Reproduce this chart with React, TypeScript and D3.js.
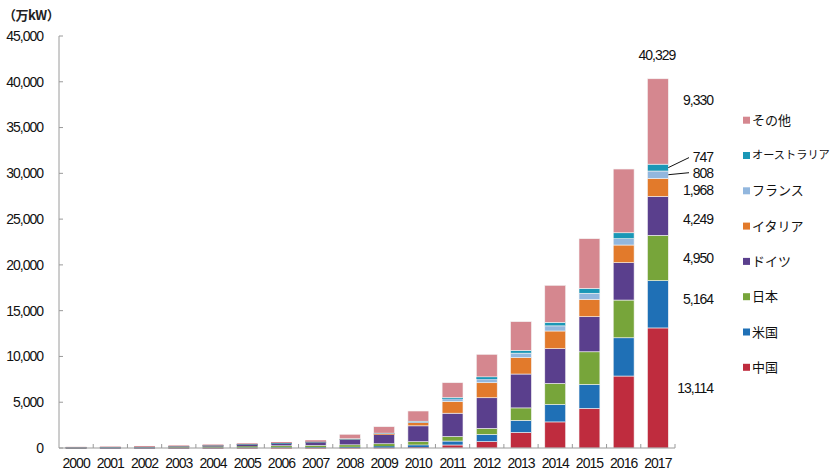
import React from "react";
import * as d3 from "d3";

const years = ["2000","2001","2002","2003","2004","2005","2006","2007","2008","2009","2010","2011","2012","2013","2014","2015","2016","2017"];
const seriesNames = ["中国","米国","日本","ドイツ","イタリア","フランス","オーストラリア","その他"];
const seriesColors = ["#BF2C3E","#1F70B6","#77A53A","#5A3F8D","#E27A2B","#92B7DE","#1A97B6","#D5878F"];

const china = [2,3,4,5,6,7,8,10,14,30,80,330,700,1700,2850,4320,7860,13114];
const usa = [14,17,21,28,37,48,62,83,117,170,250,430,780,1320,1900,2620,4180,5164];
const japan = [33,45,64,86,113,142,171,192,214,263,362,491,660,1360,2300,3570,4120,4950];
const germany = [11,18,30,43,110,200,290,380,600,990,1730,2550,3350,3700,3800,3830,4080,4249];
const italy = [2,2,2,3,3,4,5,10,46,120,350,1280,1640,1790,1930,1900,1930,1968];
const france = [1,1,1,1,1,1,2,5,10,30,100,290,400,490,560,660,690,808];
const australia = [3,3,4,5,5,6,7,8,10,18,50,140,240,300,390,540,650,747];
const others = [59,71,94,109,105,102,105,162,489,704,1118,1619,2460,3140,4040,5420,6960,9330];

const yTicks = [0,5000,10000,15000,20000,25000,30000,35000,40000,45000];
const total2017Label = "40,329";
const labels2017 = ["13,114","5,164","4,950","4,249","1,968","808","747","9,330"];
const labelDy = [0,-5,0,3,3,-2,-10,-21];

const W = 838, H = 474;
const left = 59, right = 675, top = 36, bottom = 448;

export default function App() {
  const data = years.map((y, i) => ({
    year: y,
    中国: china[i], 米国: usa[i], 日本: japan[i], ドイツ: germany[i],
    イタリア: italy[i], フランス: france[i], オーストラリア: australia[i], その他: others[i],
  }));
  const stack = d3.stack<any>().keys(seriesNames)(data);
  const x = d3.scaleBand<string>().domain(years).range([left, right]).paddingInner(0.39).paddingOuter(0.195);
  const y = d3.scaleLinear().domain([0, 45000]).range([bottom, top]);
  const fmt = d3.format(",");
  const numFont = "'Liberation Sans', Arial, sans-serif";
  const jpFont = "'Noto Sans CJK JP', sans-serif";
  const step = x.step();
  const last = years[years.length - 1];
  const lx = x(last)! + x.bandwidth();

  return (
    <svg width={W} height={H} style={{ position: "absolute", left: 0, top: 0, background: "#fff" }}>
      <rect x={0} y={0} width={W} height={H} fill="#fff" />
      <text x={3} y={20} fontFamily={jpFont} fontSize={13} fontWeight="bold" fill="#222" letterSpacing={-0.5}>（万kW）</text>
      {/* y axis */}
      <line x1={left} x2={left} y1={top} y2={bottom} stroke="#9a9a9a" strokeWidth={1} />
      {yTicks.map((t) => (
        <g key={t}>
          <line x1={left} x2={left + 4} y1={y(t)} y2={y(t)} stroke="#9a9a9a" />
          <text x={43} y={y(t)} dy="0.35em" textAnchor="end" fontFamily={numFont} fontSize={14} letterSpacing={-1} fill="#111">{fmt(t)}</text>
        </g>
      ))}
      {/* bars */}
      {stack.map((s, si) => (
        <g key={s.key} fill={seriesColors[si]}>
          {s.map((d, i) => {
            const h = y(d[0]) - y(d[1]);
            const thin = h < 2.5;
            return <rect key={i} x={x(years[i])} y={y(d[1])} width={x.bandwidth()} height={Math.max(h, 0.6)} stroke={thin ? "none" : "#f4f4f4"} strokeWidth={0.6} />;
          })}
        </g>
      ))}
      {/* x axis */}
      <line x1={left} x2={right} y1={bottom} y2={bottom} stroke="#9a9a9a" />
      {years.map((yr, i) => (
        <g key={yr}>
          {i > 0 && <line x1={left + step * i} x2={left + step * i} y1={bottom - 4} y2={bottom} stroke="#9a9a9a" />}
          <text x={x(yr)! + x.bandwidth() / 2} y={463} dy="0.35em" textAnchor="middle" fontFamily={numFont} fontSize={14} letterSpacing={-1} fill="#111">{yr}</text>
        </g>
      ))}
      <line x1={right} x2={right} y1={bottom - 4} y2={bottom} stroke="#9a9a9a" />
      {/* 2017 annotations */}
      <text x={x(last)! + x.bandwidth() / 2 - 1} y={55} dy="0.35em" textAnchor="middle" fontFamily={numFont} fontSize={14} letterSpacing={-1} fill="#111">{total2017Label}</text>
      {stack.map((s, si) => {
        const d = s[s.length - 1];
        const cy = (y(d[0]) + y(d[1])) / 2 + labelDy[si];
        return (
          <text key={s.key} x={713} y={cy} dy="0.35em" textAnchor="end" fontFamily={numFont} fontSize={14} letterSpacing={-1} fill="#111">{labels2017[si]}</text>
        );
      })}
      {[5, 6].map((si) => {
        const d = stack[si][stack[si].length - 1];
        const cy = (y(d[0]) + y(d[1])) / 2;
        return <line key={si} x1={lx} y1={cy} x2={689} y2={cy + labelDy[si]} stroke="#111" strokeWidth={1} />;
      })}
      {/* legend */}
      {seriesNames.map((n, i) => {
        const ly = 367.3 - i * 35.3;
        const fs = n.length > 5 ? 11.2 : 13;
        return (
          <g key={n}>
            <rect x={743} y={ly - 3.5} width={7} height={7} fill={seriesColors[i]} />
            <text x={752} y={ly} dy="0.35em" fontFamily={jpFont} fontSize={fs} fill="#111">{n}</text>
          </g>
        );
      })}
    </svg>
  );
}
